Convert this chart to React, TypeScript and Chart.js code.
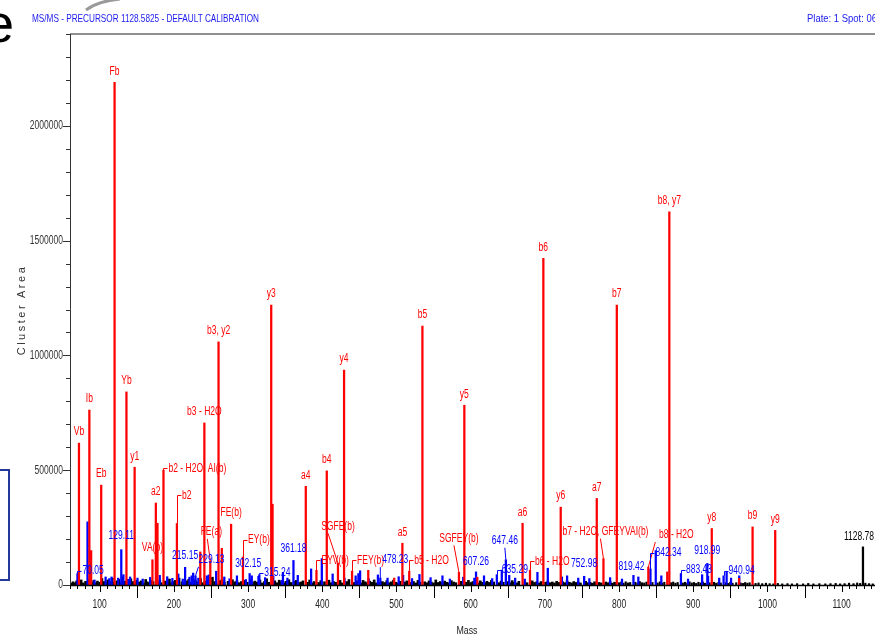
import React, { useEffect, useRef } from "react";
import { Chart, registerables } from "chart.js";

Chart.register(...registerables);

const SANS = "'Liberation Sans', Arial, sans-serif";
const SQUEEZE = 0.71; // condensed look of the original software's font
const RED = "#ff0000";
const BLUE = "#0000ff";
const K = 1000; // noise / minor peak tables are written in thousands of cluster area

// ---- axes ----
const xTickLabels = [100, 200, 300, 400, 500, 600, 700, 800, 900, 1000, 1100];
const yTickLabels = [0, 500000, 1000000, 1500000, 2000000];

// ---- annotated fragment peaks (red) ----
const fragMass = [
  72.08, 86.1, 102.05, 120.08, 136.08, 147.11, 171.11, 175.7, 186.0, 204.1,
  241.1, 249.12, 260.2, 277.12, 293.11, 331.2, 377.8, 392.18, 406.1, 421.17,
  429.4, 440.18, 508.0, 517.2, 535.0, 584.24, 591.5, 670.0, 680.0, 698.0,
  721.4, 770.0, 779.0, 797.0, 839.5, 867.8, 925.0, 980.0, 1010.5,
];
const fragValue = [
  618000, 762000, 435000, 2190000, 841000, 513000, 110000, 357000, 500000, 268000,
  706000, 105000, 1059000, 265000, 122000, 1219000, 430000, 64000, 497000, 95000,
  936000, 60000, 182000, 60000, 1128000, 55000, 783000, 269000, 64000, 1423000,
  339000, 377000, 115000, 1219000, 78000, 1625000, 246000, 253000, 238000,
];
const fragLabel = [
  "Vb", "Ib", "Eb", "Fb", "Yb", "y1", "VA(b)", "a2", "b2 - H2O, AI(b)", "b2",
  "b3 - H2O", "FE(a)", "b3, y2", "FE(b)", "EY(b)", "y3", "a4", "EYV(b)", "b4", "SGFE(b)",
  "y4", "FEY(b)", "a5", "b5 - H2O", "b5", "SGFEY(b)", "y5", "a6", "b6 - H2O", "b6",
  "y6", "a7", "b7 - H2O, GFEYVAI(b)", "b7", "b8 - H2O", "b8, y7", "y8", "b9", "y9",
];

// unlabeled red peaks [mass, thousands]
const redMinor: [number, number][] = [
  [88.5, 150], [177.9, 269], [235.6, 144], [264.6, 160], [333.0, 352],
  [462, 64], [497, 30], [609, 34], [865, 57], [961.8, 29],
];

// ---- labelled monoisotopic peaks (blue) ----
const blueMass = [70.05, 129.11, 215.15, 229.13, 302.15, 315.24, 361.18, 478.23, 607.26, 635.29, 647.46, 752.98, 819.42, 842.34, 883.43, 918.99, 940.94];
const blueValue = [50000, 154000, 77000, 40000, 50000, 45000, 107000, 30000, 57000, 45000, 110000, 38000, 42000, 70000, 50000, 94000, 40000];
const blueLabel = ["70.05", "129.11", "215.15", "229.13", "302.15", "315.24", "361.18", "478.23", "607.26", "635.29", "647.46", "752.98", "819.42", "842.34", "883.43", "918.99", "940.94"];

// unlabeled blue peaks [mass, thousands]
const blueMinor: [number, number][] = [
  [83.6, 275], [93, 22], [108, 35], [113, 28], [116, 35], [125, 30], [132, 45], [138, 25], [141, 35],
  [151, 30], [158, 26], [168, 33], [181, 42], [191, 36], [198, 29], [206, 48], [212, 26], [221, 34],
  [224, 40], [226, 52], [233, 30], [244.4, 40], [247, 44], [257, 60], [268, 35], [275, 27], [285, 40],
  [297, 24], [305, 40], [314, 38], [323, 32], [334, 38], [345.5, 20], [347, 55], [353, 30], [367, 42],
  [385, 70], [399.4, 115], [414, 48], [430, 30], [445, 40], [448.7, 50], [451, 62], [462.5, 28], [475, 44],
  [488, 30], [503, 36], [509, 42], [521, 28], [531, 46], [546, 32], [562, 40], [572, 26], [590, 34],
  [605, 30], [618, 40], [629, 28], [642, 65], [652, 42], [660, 30], [673, 26], [690, 55], [704, 73],
  [723, 35], [730, 40], [745, 30], [760, 28], [788, 32], [804, 26], [826, 35], [849.5, 150], [857, 40],
  [893, 26], [912, 45], [920, 38], [935, 30], [945, 55], [951, 30], [962, 40],
];

// precursor (black, labelled)
const precursorMass = [1128.78];
const precursorValue = [166000];
const precursorLabel = ["1128.78"];

// baseline noise (black) [mass, thousands]
const noise60to200: [number, number][] = [
  [61, 8], [64, 14], [67, 10], [69, 18], [73, 12], [75, 22], [78, 9], [81, 16], [84, 11], [86, 25],
  [89, 13], [92, 20], [95, 9], [97, 17], [100, 12], [103, 28], [106, 15], [108, 10], [111, 22], [114, 14],
  [117, 30], [119, 12], [123, 18], [126, 24], [128, 11], [131, 35], [134, 16], [137, 20], [139, 12], [142, 27],
  [145, 15], [148, 10], [150, 21], [153, 13], [156, 18], [159, 9], [162, 24], [164, 14], [167, 11], [169, 19],
  [172, 15], [178, 12], [181, 22], [183, 10], [188, 17], [191, 13], [194, 26], [197, 11], [199, 15],
];
const noise200to400: [number, number][] = [
  [202, 20], [205, 12], [207, 30], [211, 14], [213, 9], [217, 18], [220, 25], [223, 11], [226, 16], [229, 22],
  [232, 13], [236, 28], [239, 10], [242, 17], [245, 21], [248, 12], [252, 34], [255, 15], [257, 9], [262, 19],
  [265, 26], [268, 12], [273, 16], [276, 11], [279, 23], [282, 14], [285, 18], [288, 10], [291, 15], [296, 20],
  [299, 12], [303, 25], [306, 11], [309, 17], [312, 13], [316, 22], [319, 9], [322, 15], [325, 27], [328, 12],
  [336, 18], [339, 10], [342, 21], [345, 14], [348, 9], [351, 16], [355, 23], [358, 11], [362, 15], [365, 20],
  [368, 10], [371, 13], [374, 18], [380, 12], [383, 22], [386, 9], [389, 15], [395, 11], [398, 19],
];
const noise400to600: [number, number][] = [
  [403, 14], [409, 21], [412, 10], [415, 16], [418, 12], [424, 20], [427, 9], [433, 15], [436, 24], [443, 11],
  [446, 18], [449, 13], [452, 9], [455, 20], [458, 14], [461, 10], [464, 17], [467, 12], [470, 22], [473, 9],
  [476, 13], [481, 15], [484, 11], [487, 19], [490, 10], [493, 14], [496, 21], [499, 12], [502, 9], [505, 16],
  [511, 13], [514, 18], [520, 11], [523, 15], [526, 9], [529, 20], [532, 12], [538, 14], [541, 10], [544, 18],
  [547, 13], [550, 9], [553, 22], [556, 11], [559, 15], [562, 10], [565, 17], [568, 12], [571, 9], [574, 19],
  [577, 13], [580, 10], [587, 16], [594, 12], [597, 20],
];
const noise600to800: [number, number][] = [
  [600, 11], [603, 15], [610, 9], [613, 18], [616, 12], [619, 10], [622, 16], [625, 11], [628, 20], [631, 13],
  [638, 10], [641, 17], [644, 12], [650, 15], [653, 10], [656, 19], [659, 12], [662, 9], [665, 16], [673, 13],
  [676, 10], [683, 18], [686, 11], [689, 14], [692, 9], [695, 15], [701, 12], [704, 17], [707, 10], [710, 13],
  [713, 9], [716, 16], [719, 11], [724, 14], [727, 10], [730, 18], [733, 12], [736, 9], [739, 15], [742, 11],
  [745, 13], [748, 9], [755, 16], [758, 10], [761, 12], [764, 8], [767, 14], [773, 11], [776, 9], [782, 13],
  [785, 10], [788, 15], [791, 8], [794, 12],
];
const noise800to1145: [number, number][] = [
  [800, 10], [803, 13], [806, 8], [809, 14], [812, 9], [815, 11], [822, 12], [825, 8], [828, 15], [831, 10],
  [834, 9], [837, 13], [845, 11], [852, 9], [855, 14], [858, 8], [861, 12], [870, 10], [873, 13], [876, 8],
  [879, 11], [886, 9], [889, 12], [892, 8], [895, 14], [898, 9], [901, 11], [904, 7], [907, 12], [910, 9],
  [913, 13], [916, 8], [922, 10], [928, 12], [931, 8], [934, 11], [937, 9], [944, 10], [947, 7], [950, 12],
  [953, 8], [958, 10], [964, 9], [967, 7], [970, 11], [973, 8], [976, 10], [984, 7], [988, 9], [993, 6],
  [998, 8], [1003, 6], [1008, 5], [1014, 7], [1020, 5], [1027, 6], [1033, 5], [1040, 6], [1048, 5], [1055, 7],
  [1062, 5], [1070, 6], [1078, 5], [1085, 6], [1092, 7], [1098, 5], [1104, 6], [1110, 8], [1116, 6], [1121, 9],
  [1125, 7], [1132, 8], [1137, 6], [1142, 5],
];

// ---- label placement (style, not data): offsets in px from the peak top ----
type Lay = { kind?: "above" | "bracket" | "slant"; dx?: number; dy?: number; ldx?: number };
const labelLayout: Record<string, Lay> = {
  "VA(b)": { dy: -12 },
  "b2 - H2O, AI(b)": { kind: "bracket", dy: -2 },
  b2: { kind: "bracket", dy: -28 },
  "FE(a)": { kind: "slant", dx: 1, dy: -29, ldx: -4 },
  "EY(b)": { kind: "bracket", dy: -17 },
  "EYV(b)": { kind: "bracket", dy: -10 },
  "SGFE(b)": { kind: "slant", dx: 0, dy: -37, ldx: -10 },
  "FEY(b)": { kind: "bracket", dy: -11 },
  "b5 - H2O": { kind: "bracket", dy: -11 },
  "SGFEY(b)": { kind: "slant", dx: 0, dy: -34, ldx: -5 },
  "b6 - H2O": { kind: "bracket", dy: -9 },
  "b7 - H2O, GFEYVAI(b)": { kind: "slant", dx: 2, dy: -27, ldx: -5 },
  "b8 - H2O": { kind: "slant", dx: 28, dy: -32, ldx: -21 },
  "70.05": { kind: "bracket", dy: -3 },
  "129.11": { dy: -14 },
  "215.15": { dy: -12 },
  "229.13": { kind: "slant", dx: 16, dy: -16, ldx: -13 },
  "302.15": { dx: -1.5, dy: -10 },
  "315.24": { kind: "bracket", dy: -2 },
  "361.18": { dy: -12 },
  "478.23": { kind: "slant", dx: 15, dy: -18, ldx: -15 },
  "607.26": { dy: -10 },
  "635.29": { kind: "bracket", dy: -5 },
  "647.46": { kind: "slant", dx: -1, dy: -19, ldx: 0 },
  "752.98": { dy: -13 },
  "819.42": { dx: -2, dy: -9 },
  "842.34": { kind: "bracket", dy: -16 },
  "883.43": { kind: "bracket", dy: -4 },
  "918.99": { dy: -13 },
  "940.94": { kind: "bracket", dy: -5 },
  "1128.78": { dx: -4, dy: -10 },
};

const labelGroups = [
  { mass: fragMass, value: fragValue, text: fragLabel, color: RED },
  { mass: blueMass, value: blueValue, text: blueLabel, color: BLUE },
  { mass: precursorMass, value: precursorValue, text: precursorLabel, color: "#000" },
];

const pairs = (arr: [number, number][]) => arr.map(([m, h]) => ({ x: m, y: h * K }));
const zipXY = (ms: number[], vs: number[]) => ms.map((m, i) => ({ x: m, y: vs[i] }));

function squeezedText(ctx: CanvasRenderingContext2D, text: string, x: number, y: number, align: CanvasTextAlign) {
  ctx.save();
  ctx.translate(x, y);
  ctx.scale(SQUEEZE, 1);
  ctx.textAlign = align;
  ctx.fillText(text, 0, 0);
  ctx.restore();
}

const msPlugin = {
  id: "msSpectrum",
  afterDatasetsDraw(chart: any) {
    const { ctx, chartArea: a } = chart;
    const xs = chart.scales.x;
    const ys = chart.scales.y;
    const line = (x1: number, y1: number, x2: number, y2: number) => {
      ctx.beginPath();
      ctx.moveTo(x1, y1);
      ctx.lineTo(x2, y2);
      ctx.stroke();
    };
    ctx.save();
    // top frame
    ctx.strokeStyle = "#8f8f8f";
    ctx.lineWidth = 2;
    line(a.left, a.top, a.right, a.top);
    // y axis with ticks
    ctx.strokeStyle = "#333";
    ctx.lineWidth = 1;
    line(a.left + 0.5, a.top, a.left + 0.5, a.bottom);
    for (let v = 0; v <= 2400000; v += 100000) {
      const py = Math.round(ys.getPixelForValue(v)) + 0.5;
      const len = v % 500000 === 0 ? 7 : 4;
      line(a.left - len, py, a.left, py);
    }
    // x axis with ticks
    ctx.strokeStyle = "#000";
    ctx.lineWidth = 1.5;
    line(a.left, a.bottom + 0.5, a.right, a.bottom + 0.5);
    ctx.lineWidth = 1;
    for (let m = 60; m <= 1140; m += 10) {
      const px = Math.round(xs.getPixelForValue(m)) + 0.5;
      const len = m % 100 === 0 ? 7 : m % 50 === 0 ? 13 : 4;
      line(px, a.bottom, px, a.bottom + len);
    }
    // tick labels from the scales' ticks
    ctx.font = `12px ${SANS}`;
    ctx.textBaseline = "middle";
    ctx.fillStyle = "#333";
    ys.ticks.forEach((t: any) => {
      squeezedText(ctx, String(t.value), a.left - 7, ys.getPixelForValue(t.value), "right");
    });
    ctx.fillStyle = "#222";
    xs.ticks.forEach((t: any) => {
      squeezedText(ctx, String(t.value), xs.getPixelForValue(t.value), a.bottom + 20, "center");
    });
    // peak labels
    ctx.font = `12px ${SANS}`;
    ctx.lineWidth = 1;
    for (const g of labelGroups) {
      g.mass.forEach((m, i) => {
        const text = g.text[i];
        const lay: Lay = { kind: "above", dx: 0, dy: -11, ldx: 0, ...(labelLayout[text] || {}) };
        const px = xs.getPixelForValue(m);
        const top = ys.getPixelForValue(g.value[i]);
        ctx.fillStyle = g.color;
        ctx.strokeStyle = g.color;
        if (lay.kind === "bracket") {
          const ly = top + (lay.dy as number);
          const bx = Math.round(px) + 0.5;
          ctx.beginPath();
          ctx.moveTo(bx, top);
          ctx.lineTo(bx, Math.round(ly) + 0.5);
          ctx.lineTo(bx + 4, Math.round(ly) + 0.5);
          ctx.stroke();
          squeezedText(ctx, text, px + 5, ly, "left");
        } else {
          const lx = px + (lay.dx as number);
          const ly = top + (lay.dy as number);
          squeezedText(ctx, text, lx, ly, "center");
          if (lay.kind === "slant") {
            line(lx + (lay.ldx as number), ly + 7, px, top);
          }
        }
      });
    }
    ctx.restore();
  },
};

export default function App() {
  const ref = useRef<HTMLCanvasElement | null>(null);

  useEffect(() => {
    if (!ref.current) return;
    const chart = new Chart(ref.current, {
      type: "bar",
      data: {
        datasets: [
          { data: zipXY(fragMass, fragValue), backgroundColor: RED, order: 1 } as any,
          { data: pairs(redMinor), backgroundColor: RED, order: 2 } as any,
          { data: zipXY(blueMass, blueValue), backgroundColor: BLUE, order: 3 } as any,
          { data: pairs(blueMinor), backgroundColor: BLUE, order: 4 } as any,
          { data: zipXY(precursorMass, precursorValue), backgroundColor: "#000", order: 5 } as any,
          { data: pairs(noise60to200), backgroundColor: "#000", barThickness: 2, order: 6 } as any,
          { data: pairs(noise200to400), backgroundColor: "#000", barThickness: 2, order: 6 } as any,
          { data: pairs(noise400to600), backgroundColor: "#000", barThickness: 2, order: 6 } as any,
          { data: pairs(noise600to800), backgroundColor: "#000", barThickness: 2, order: 6 } as any,
          { data: pairs(noise800to1145), backgroundColor: "#000", barThickness: 1.5, order: 6 } as any,
        ],
      },
      options: {
        animation: false,
        responsive: false,
        maintainAspectRatio: false,
        datasets: { bar: { barThickness: 1.6, grouped: false, borderWidth: 0 } } as any,
        layout: { padding: { top: 34, left: 0, right: 0, bottom: 0 } },
        plugins: { legend: { display: false }, tooltip: { enabled: false }, title: { display: false } },
        scales: {
          x: {
            type: "linear",
            min: 60,
            max: 1145,
            offset: false,
            grid: { display: false, drawTicks: false },
            border: { display: false },
            afterBuildTicks: (s: any) => {
              s.ticks = xTickLabels.map((v) => ({ value: v }));
            },
            afterFit: (s: any) => {
              s.height = 53;
            },
            ticks: { display: false, autoSkip: false },
          },
          y: {
            type: "linear",
            min: 0,
            max: 2400000,
            grid: { display: false, drawTicks: false },
            border: { display: false },
            afterBuildTicks: (s: any) => {
              s.ticks = yTickLabels.map((v) => ({ value: v }));
            },
            afterFit: (s: any) => {
              s.width = 70;
            },
            ticks: { display: false },
          },
        },
      } as any,
      plugins: [msPlugin],
    });
    return () => chart.destroy();
  }, []);

  return (
    <div style={{ position: "fixed", left: 0, top: 0, width: 875, height: 638, overflow: "hidden", background: "#fff" }}>
      <canvas ref={ref} width={875} height={638} style={{ position: "absolute", left: 0, top: 0, width: 875, height: 638 }} />
      <svg width={875} height={638} style={{ position: "absolute", left: 0, top: 0, pointerEvents: "none" }}>
        <text x={-16} y={42} fontSize={54} fontFamily={SANS} fill="#000">e</text>
        <path d="M 86 10 Q 98 1 120 -1" stroke="#9a9a9a" strokeWidth={3} fill="none" />
        <rect x={-20} y={470} width={29} height={110} stroke="#24389a" strokeWidth={2} fill="none" />
        <text x={32} y={22} fontSize={11} fontFamily={SANS} fill="#1a1aee" textLength={227} lengthAdjust="spacingAndGlyphs">MS/MS - PRECURSOR 1128.5825 - DEFAULT CALIBRATION</text>
        <text x={807} y={22} fontSize={11} fontFamily={SANS} fill="#1a1aee" textLength={70} lengthAdjust="spacingAndGlyphs">Plate: 1 Spot: 06</text>
        <text x={22} y={310} fontSize={11} fontFamily={SANS} fill="#333" letterSpacing={2.5} textAnchor="middle" dominantBaseline="middle" transform="rotate(-90 22 310)">Cluster Area</text>
        <text x={467} y={634} fontSize={11} fontFamily={SANS} fill="#222" textAnchor="middle" transform="translate(467 0) scale(0.8 1) translate(-467 0)">Mass</text>
      </svg>
    </div>
  );
}
